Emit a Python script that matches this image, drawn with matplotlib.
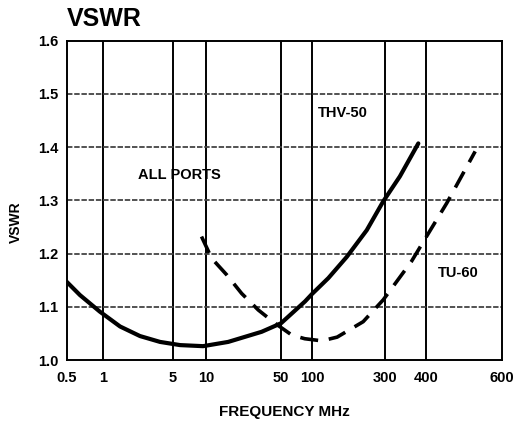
import numpy as np
import matplotlib
matplotlib.use("Agg")
import matplotlib.pyplot as plt

# ---- data ----
tick_freqs = [0.5, 1, 5, 10, 50, 100, 300, 400, 600]
tick_labels = ["0.5", "1", "5", "10", "50", "100", "300", "400", "600"]
y_ticks = [1.0, 1.1, 1.2, 1.3, 1.4, 1.5, 1.6]
y_tick_labels = ["1.0", "1.1", "1.2", "1.3", "1.4", "1.5", "1.6"]

thv_freq = [0.5, 0.644, 0.94, 1.48, 2.34, 3.71, 5.8, 9.4, 16.1, 33.0, 50.0,
            85.5, 100.0, 128.0, 169.0, 228.0, 292.0, 333.0, 379.0]
thv_vswr = [1.147, 1.122, 1.091, 1.063, 1.045, 1.034, 1.028, 1.026, 1.034, 1.053, 1.069,
            1.110, 1.124, 1.154, 1.194, 1.244, 1.298, 1.345, 1.407]

tu_freq = [9.1, 11.3, 15.6, 21.5, 30.7, 44.0, 63.5, 85.0, 116.0, 146.0,
           216.0, 292.0, 361.0, 401.0, 447.0, 520.0]
tu_vswr = [1.232, 1.191, 1.160, 1.125, 1.094, 1.069, 1.047, 1.040, 1.036, 1.043,
           1.072, 1.113, 1.185, 1.232, 1.295, 1.392]

# ---- non-uniform frequency axis (as printed) ----
axis_break_pos = np.array([0.0, 36.3, 106.3, 139.3, 214.3, 245.3, 318.3, 359.3, 435.3])
axis_break_log = np.log10(np.array(tick_freqs))


def fwd(x):
    x = np.clip(np.asarray(x, dtype=float), 1e-6, None)
    return np.interp(np.log10(x), axis_break_log, axis_break_pos)


def inv(p):
    return 10 ** np.interp(np.asarray(p, dtype=float), axis_break_pos, axis_break_log)


plt.rcParams['font.family'] = ['Liberation Sans', 'DejaVu Sans']

fig = plt.figure(figsize=(5.14, 4.23), dpi=100)
ax = fig.add_axes([66.7 / 514, 1 - 360 / 423, (502 - 66.7) / 514, (360 - 40.7) / 423])
ax.set_xscale('function', functions=(fwd, inv))
ax.set_xlim(0.5, 600)
ax.set_ylim(1.0, 1.6)

# grid
for f in tick_freqs[1:-1]:
    ax.axvline(f, color='black', lw=1.4, zorder=1)
for v in y_ticks[1:-1]:
    ax.axhline(v, color='#444444', lw=1.3, ls=(0, (3, 1)), zorder=1)

ax.plot(thv_freq, thv_vswr, color='black', lw=3.0, solid_capstyle='round',
        solid_joinstyle='round', zorder=3)
ax.plot(tu_freq, tu_vswr, color='black', lw=2.6, ls=(0, (5, 3)),
        dash_capstyle='butt', zorder=3)

ax.set_xticks(tick_freqs)
ax.set_xticklabels(tick_labels)
ax.set_yticks(y_ticks)
ax.set_yticklabels(y_tick_labels)
ax.xaxis.set_minor_locator(matplotlib.ticker.NullLocator())
ax.tick_params(length=0, labelsize=10.5, pad=8)
for lab in ax.get_xticklabels() + ax.get_yticklabels():
    lab.set_fontweight('bold')
ax.tick_params(axis='y', pad=6)

for s in ax.spines.values():
    s.set_linewidth(1.4)
    s.set_color('black')

ax.set_xlabel("FREQUENCY MHz", fontsize=11, fontweight='bold', labelpad=14)
ax.set_ylabel("VSWR", fontsize=10, fontweight='bold')
ax.yaxis.set_label_coords(-0.100, 0.433)

fig.text(67 / 514, 1 - 19 / 423, "VSWR", fontsize=18, fontweight='bold',
         ha='left', va='center')

ax.text(0.163, 0.58, "ALL PORTS", transform=ax.transAxes, fontsize=10.5,
        fontweight='bold', ha='left', va='center')
ax.text(0.577, 0.774, "THV-50", transform=ax.transAxes, fontsize=10.5,
        fontweight='bold', ha='left', va='center')
ax.text(0.853, 0.272, "TU-60", transform=ax.transAxes, fontsize=10.5,
        fontweight='bold', ha='left', va='center')

fig.savefig("out.png", dpi=100)
